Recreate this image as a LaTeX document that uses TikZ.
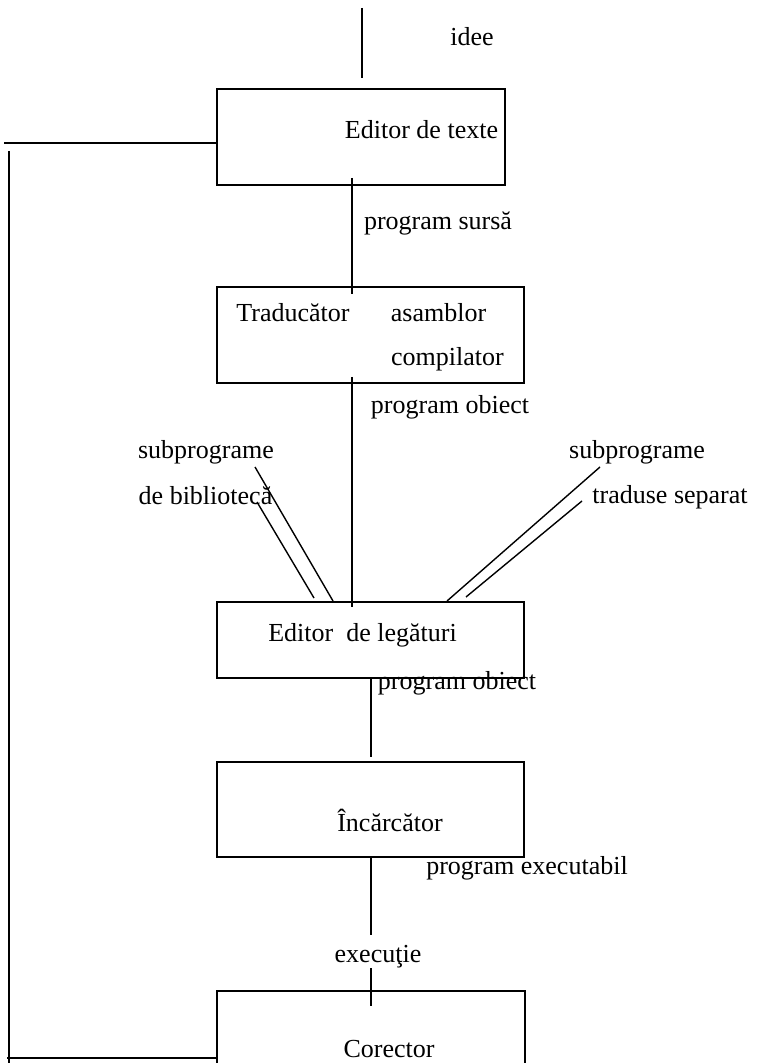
\documentclass[tikz,border=0pt]{standalone}
\usepackage{fontspec}
\setmainfont{Liberation Serif}
\usepackage{tikz}
\usetikzlibrary{positioning,calc}

\tikzset{
    stage/.style={draw,line width=0.8pt,rectangle,inner sep=0pt},
    lbl/.style={inner sep=0pt,font=\fontsize{13}{15}\selectfont},
    wire/.style={line width=0.7pt}
}

\begin{document}
\begin{tikzpicture}[x=0.5pt,y=-0.5pt]
    \useasboundingbox (0,0) rectangle (757,1063);
    \clip (0,0) rectangle (757,1063);

    % boxes
    \node[stage,minimum width=144pt,minimum height=48pt] (edit) at (361,137) {};
    \node[stage,minimum width=153.5pt,minimum height=48pt] (trad) at (370.5,335) {};
    \node[stage,minimum width=153.5pt,minimum height=38pt] (link) at (370.5,640) {};
    \node[stage,minimum width=153.5pt,minimum height=47.5pt] (load) at (370.5,809.5) {};
    \node[stage,minimum width=154pt,minimum height=50pt] (corr) at (371,1041) {};

    % texts
    \node[lbl] (idee) at (472,37) {idee};
    \node[lbl] (tedit) at (421.5,130) {Editor de texte};
    \node[lbl] (sursa) at (438,223) {program sursă};
    \node[lbl] (ttrad) at (293,313) {Traducător};
    \node[lbl] (asm) at (438.5,313) {asamblor};
    \node[lbl] (comp) at (447.5,359) {compilator};
    \node[lbl] (obj1) at (450,407) {program obiect};
    \node[lbl] (subl) at (206,452) {subprograme};
    \node[lbl] (bibl) at (205.5,496) {de bibliotecă};
    \node[lbl] (subr) at (637,452) {subprograme};
    \node[lbl] (sep) at (670,497) {traduse separat};
    \node[lbl] (tlink) at (362.5,635) {Editor\ \ de legături};
    \node[lbl] (obj2) at (457,683) {program obiect};
    \node[lbl] (tload) at (390,820) {Încărcător};
    \node[lbl] (exe) at (527,868) {program executabil};
    \node[lbl] (run) at (378,957) {execuţie};
    \node[lbl] (tcorr) at (389,1049) {Corector};

    % free ends of the lines
    \coordinate (i1) at (362,8);
    \coordinate (i2) at (362,78);
    \coordinate (s1) at (352,178);
    \coordinate (s2) at (352,294);
    \coordinate (o1) at (352,377);
    \coordinate (o2) at (352,607);
    \coordinate (o3) at (371,678);
    \coordinate (o4) at (371,757);
    \coordinate (x1) at (371,857);
    \coordinate (x2) at (371,935);
    \coordinate (x3) at (371,968);
    \coordinate (x4) at (371,1006);
    \coordinate (la1) at (255,467);
    \coordinate (la2) at (333,601);
    \coordinate (lb1) at (257,502);
    \coordinate (lb2) at (314,598);
    \coordinate (rc1) at (600,467);
    \coordinate (rc2) at (447,601);
    \coordinate (rd1) at (582,501);
    \coordinate (rd2) at (466,597);
    \coordinate (fb1) at (217,143);
    \coordinate (fb2) at (4,143);
    \coordinate (fb3) at (9,151);
    \coordinate (fb4) at (9,1063);
    \coordinate (fb5) at (7,1058);
    \coordinate (fb6) at (217,1058);

    % flow
    \draw[wire] (i1) -- (i2);
    \draw[wire] (s1) -- (s2);
    \draw[wire] (o1) -- (o2);
    \draw[wire] (o3) -- (o4);
    \draw[wire] (x1) -- (x2);
    \draw[wire] (x3) -- (x4);

    % library and separate subprograms
    \draw[wire] (la1) -- (la2);
    \draw[wire] (lb1) -- (lb2);
    \draw[wire] (rc1) -- (rc2);
    \draw[wire] (rd1) -- (rd2);

    % feedback from the corrector
    \draw[wire] (fb1) -- (fb2);
    \draw[wire] (fb3) -- (fb4);
    \draw[wire] (fb5) -- (fb6);
\end{tikzpicture}
\end{document}
